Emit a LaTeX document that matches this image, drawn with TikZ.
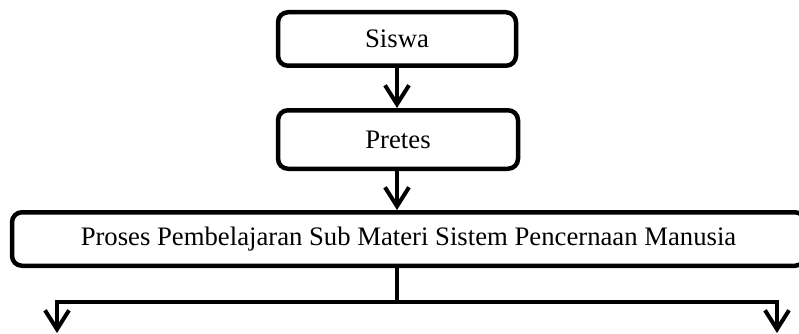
\documentclass[tikz,border=0pt]{standalone}
\usepackage{fontspec}
\setmainfont{Liberation Serif}
\usetikzlibrary{arrows.meta}
\begin{document}
\begin{tikzpicture}[x=1pt,y=-1pt]
\tikzset{
  stagebox/.style={draw, line width=4.5pt, rounded corners=10pt, inner sep=0pt,
    minimum height=53.5pt, font=\fontsize{26.7}{31}\selectfont},
  conn/.style={line width=4pt, -{Straight Barb[length=19pt,width=24pt]}},
  plainline/.style={line width=4pt}
}
\useasboundingbox (0,0) rectangle (799,334);
\clip (0,0) rectangle (799,334);
\fill[white] (0,0) rectangle (799,334);

% stages of the flow
\node[stagebox, minimum width=238pt] (siswa) at (397,39) {Siswa};
\node[stagebox, minimum width=240pt, minimum height=58.5pt] (pretes) at (398,139.5) {Pretes};
\node[stagebox, minimum width=793pt] (proses) at (408.5,239)
  {Proses Pembelajaran Sub Materi Sistem Pencernaan Manusia};

% branching points
\coordinate (split) at (397,302);
\coordinate (lefttip) at (57,333);
\coordinate (righttip) at (777,333);

% connectors
\draw[conn] (siswa.south) -- (siswa.south |- pretes.north);
\draw[conn] (siswa.south |- pretes.south) -- (siswa.south |- proses.north);
\draw[plainline] (siswa.south |- proses.south) -- (split);
\draw[conn] (split) -| (lefttip);
\draw[conn] (split) -| (righttip);
\end{tikzpicture}
\end{document}
